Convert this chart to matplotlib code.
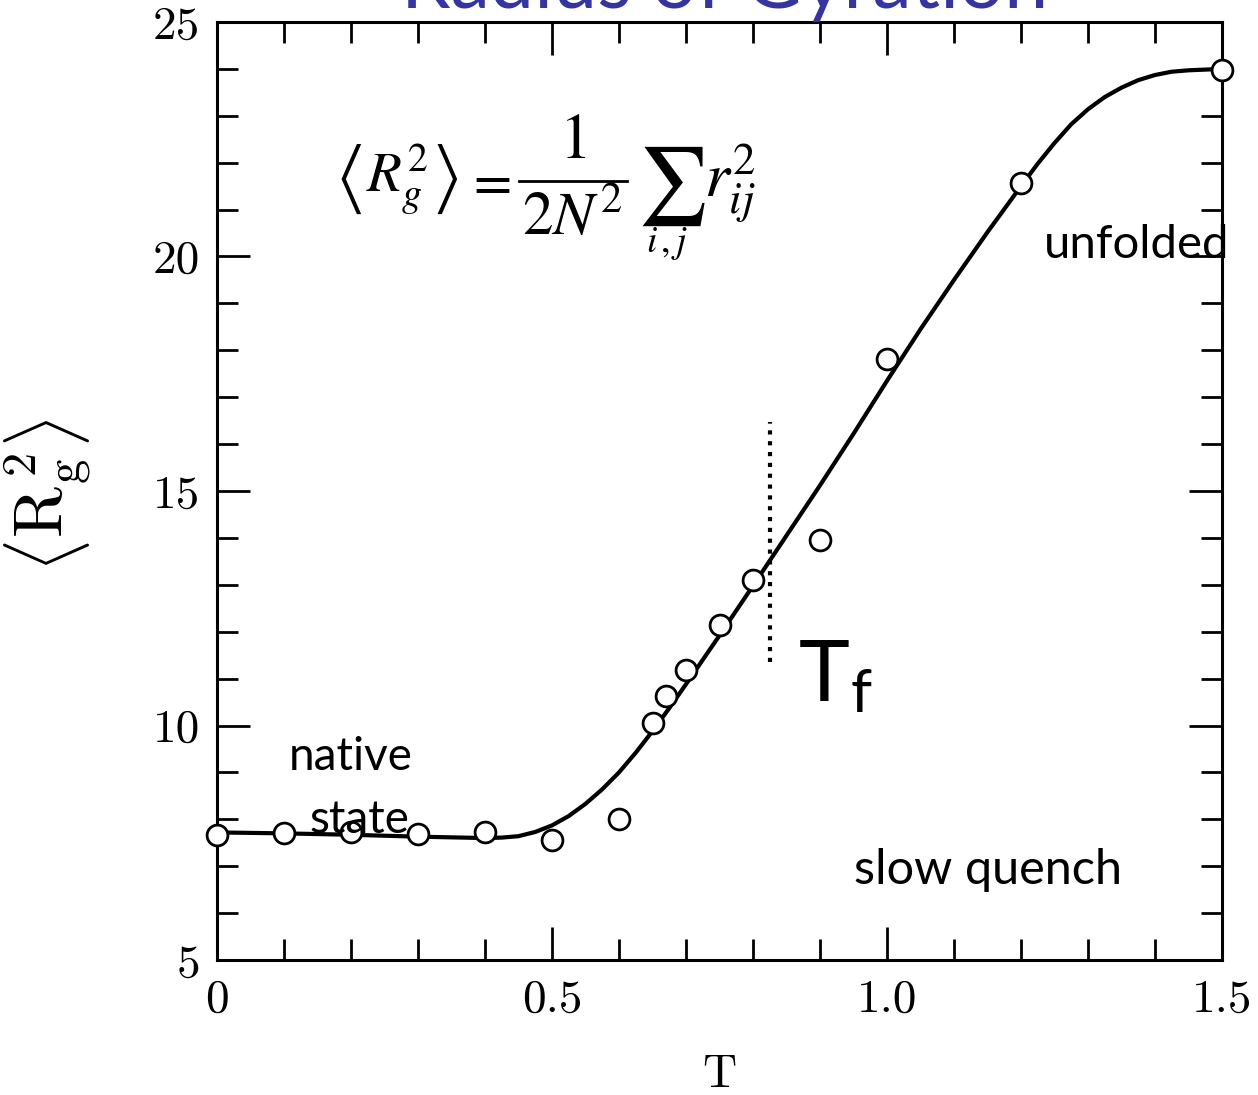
import matplotlib
matplotlib.use("Agg")
import matplotlib.pyplot as plt
from matplotlib.ticker import MultipleLocator

# =========================================================
# DATA
# =========================================================
T_points = [0.0, 0.1, 0.2, 0.3, 0.4, 0.5, 0.6, 0.65, 0.67, 0.70, 0.75, 0.80, 0.90, 1.0, 1.2, 1.5]
Rg_points = [7.67, 7.70, 7.73, 7.69, 7.73, 7.56, 8.0, 10.05, 10.63, 11.18, 12.14, 13.1, 13.96, 17.81, 21.57, 23.98]

T_curve = [0.0, 0.1, 0.2, 0.3, 0.4, 0.425, 0.45, 0.475, 0.5, 0.525, 0.55, 0.575, 0.6, 0.625, 0.65,
           0.675, 0.7, 0.75, 0.8, 0.85, 0.9, 0.95, 1.0, 1.05, 1.1, 1.15, 1.2, 1.225, 1.25, 1.275,
           1.3, 1.325, 1.35, 1.375, 1.4, 1.425, 1.45, 1.5]
Rg_curve = [7.72, 7.70, 7.67, 7.63, 7.60, 7.61, 7.64, 7.73, 7.87, 8.07, 8.33, 8.64, 9.0, 9.42, 9.88,
            10.37, 10.88, 11.92, 12.98, 14.05, 15.12, 16.22, 17.35, 18.45, 19.5, 20.52, 21.5, 21.98, 22.42, 22.82,
            23.14, 23.4, 23.6, 23.76, 23.87, 23.94, 23.97, 24.0]

T_f = 0.825
Tf_line_y = [11.35, 16.47]

x_ticks = [0, 0.5, 1.0, 1.5]
x_ticklabels = ["0", "0.5", "1.0", "1.5"]
y_ticks = [5, 10, 15, 20, 25]
y_ticklabels = ["5", "10", "15", "20", "25"]

TITLE_COLOR = "#35359f"
LABEL_FONT = ["Lato", "DejaVu Sans"]
W, H = 1258, 1095


def fx(px):
    return px / W


def fy(py):
    return 1 - py / H


# =========================================================
# FIGURE
# =========================================================
plt.rcParams["mathtext.fontset"] = "stix"

fig = plt.figure(figsize=(12.58, 10.95), dpi=100)
ax = fig.add_axes([fx(217), fy(960), (1222 - 217) / W, (960 - 22) / H])

ax.plot(T_curve, Rg_curve, color="black", lw=3.0, zorder=2, clip_on=False)
ax.plot(T_points, Rg_points, "o", ms=15, mfc="white", mec="black", mew=2.0,
        zorder=3, clip_on=False)
ax.plot([T_f, T_f], Tf_line_y, color="black", lw=3.0, linestyle=(0, (1.0, 1.6)),
        dash_capstyle="butt", zorder=2)

ax.set_xlim(0, 1.5)
ax.set_ylim(5, 25)

ax.set_xticks(x_ticks)
ax.set_xticklabels(x_ticklabels)
ax.set_yticks(y_ticks)
ax.set_yticklabels(y_ticklabels)
ax.xaxis.set_minor_locator(MultipleLocator(0.1))
ax.yaxis.set_minor_locator(MultipleLocator(1))

ax.tick_params(which="both", direction="in", top=True, right=True, width=2.0, color="black")
ax.tick_params(which="major", length=24)
ax.tick_params(which="minor", length=15)
ax.tick_params(axis="x", which="major", pad=14)
ax.tick_params(axis="y", which="major", pad=12)
for lbl in ax.get_xticklabels() + ax.get_yticklabels():
    lbl.set_fontfamily("cmr10")
    lbl.set_fontsize(34)

for sp in ax.spines.values():
    sp.set_linewidth(2.2)

ax.set_xlabel("T", fontfamily="cmr10", fontsize=34, labelpad=24)
fig.text(fx(48), fy(495), r"$\left\langle \mathrm{R}_{\mathrm{g}}^{\,2} \right\rangle$",
         rotation=90, fontsize=50, ha="center", va="center",
         math_fontfamily="cm")

# formula, built from pieces so the fraction and sum come out display-sized
fig.text(fx(396), fy(180), r"$\left\langle R_g^2 \right\rangle$", fontsize=41, ha="center", va="center")
fig.text(fx(488), fy(183), r"$=$", fontsize=40, ha="center", va="center")
fig.text(fx(573), fy(140), r"$1$", fontsize=46, ha="center", va="center")
fig.add_artist(plt.Line2D([fx(519), fx(627)], [fy(181), fy(181)], color="black", lw=2.0))
fig.text(fx(572), fy(218), r"$2N^2$", fontsize=44, ha="center", va="center")
fig.text(fx(671), fy(186), r"$\sum$", fontsize=56, ha="center", va="center")
fig.text(fx(667), fy(243), r"$i\,,j$", fontsize=27, ha="center", va="center")
fig.text(fx(704), fy(183), r"$r_{ij}^{2}$", fontsize=46, ha="left", va="center")

# annotations
ax.text(0.20, 9.33, "native", fontfamily=LABEL_FONT, fontsize=33, ha="center", va="center")
ax.text(0.213, 7.98, "state", fontfamily=LABEL_FONT, fontsize=33, ha="center", va="center")
ax.text(1.372, 20.25, "unfolded", fontfamily=LABEL_FONT, fontsize=34, ha="center", va="center")
ax.text(1.151, 6.92, "slow quench", fontfamily=LABEL_FONT, fontsize=35, ha="center", va="center")
ax.text(0.867, 11.03, r"T$_\mathregular{f}$", fontfamily=LABEL_FONT, fontsize=62, ha="left", va="center")

# clipped slide title
fig.text(fx(725), fy(8), "Radius of Gyration", color=TITLE_COLOR,
         fontfamily=LABEL_FONT, fontsize=57, ha="center", va="baseline")

fig.savefig("out.png", dpi=100)
